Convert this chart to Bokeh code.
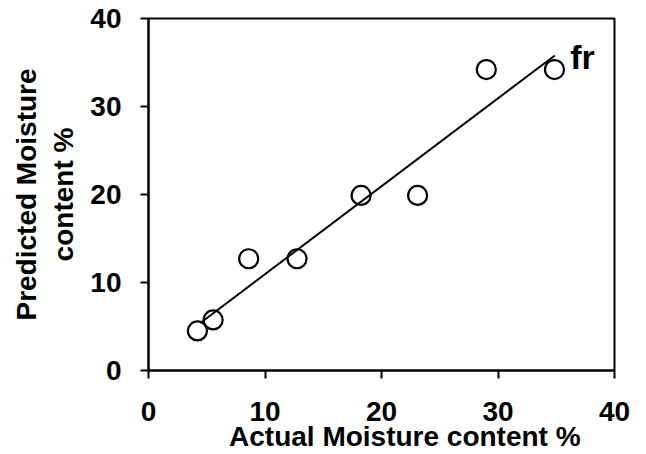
from bokeh.plotting import figure
from bokeh.models import Range1d, FixedTicker, Label
from bokeh.embed import file_html
from bokeh.resources import INLINE

# ---- data ----
actual = [4.2, 5.55, 8.6, 12.75, 18.25, 23.1, 29.0, 34.85]
predicted = [4.5, 5.75, 12.7, 12.7, 19.9, 19.9, 34.2, 34.2]
fit_x = [4.45, 34.88]
fit_y = [5.4, 35.8]
x_ticks = [0, 10, 20, 30, 40]
y_ticks = [0, 10, 20, 30, 40]
x_title = "Actual Moisture content %"
y_title = "Predicted Moisture\ncontent %"
series_label = "fr"

FONT = "Liberation Sans"
W, H = 646, 454
BL, BR, BT, BB = 148, 32, 18, 84
X0, X1, Y0, Y1 = 0, 40, 0, 40

p = figure(width=W, height=H, output_backend="svg", toolbar_location=None,
           x_range=Range1d(X0, X1), y_range=Range1d(Y0, Y1),
           min_border_left=BL, min_border_right=BR,
           min_border_top=BT, min_border_bottom=BB,
           background_fill_color="white", border_fill_color="white")
p.grid.visible = False
p.outline_line_color = "black"
p.outline_line_width = 2

for ax, ticks in ((p.xaxis[0], x_ticks), (p.yaxis[0], y_ticks)):
    ax.ticker = FixedTicker(ticks=ticks)
    ax.axis_line_width = 2
    ax.axis_line_color = "black"
    ax.major_tick_line_width = 2
    ax.major_tick_line_color = "black"
    ax.major_tick_out = 8
    ax.major_tick_in = 0
    ax.minor_tick_line_color = None
    ax.major_label_text_font = FONT
    ax.major_label_text_font_style = "bold"
    ax.major_label_text_font_size = "28px"
    ax.major_label_text_color = "black"
    ax.axis_label_text_font = FONT
    ax.axis_label_text_font_style = "bold"
    ax.axis_label_text_font_size = "28px"
    ax.axis_label_text_color = "black"

p.xaxis[0].major_label_standoff = 23
p.yaxis[0].major_label_standoff = 19
# leading no-break spaces shift the centred title right, as in the reference
p.xaxis[0].axis_label = "\u00a0" * 6 + x_title
p.xaxis[0].axis_label_standoff = -3
p.yaxis[0].axis_label = y_title
p.yaxis[0].axis_label_standoff = 8

p.line(fit_x, fit_y, line_color="black", line_width=2)
p.scatter(actual, predicted, marker="circle", size=19, fill_color=None,
          line_color="black", line_width=2.2)

p.add_layout(Label(x=36.2, y=35.65, text=series_label, text_align="left",
                   text_baseline="alphabetic", text_font=FONT,
                   text_font_style="bold", text_font_size="34px", text_color="black"))

open("out.html", "w").write(file_html(p, INLINE))
